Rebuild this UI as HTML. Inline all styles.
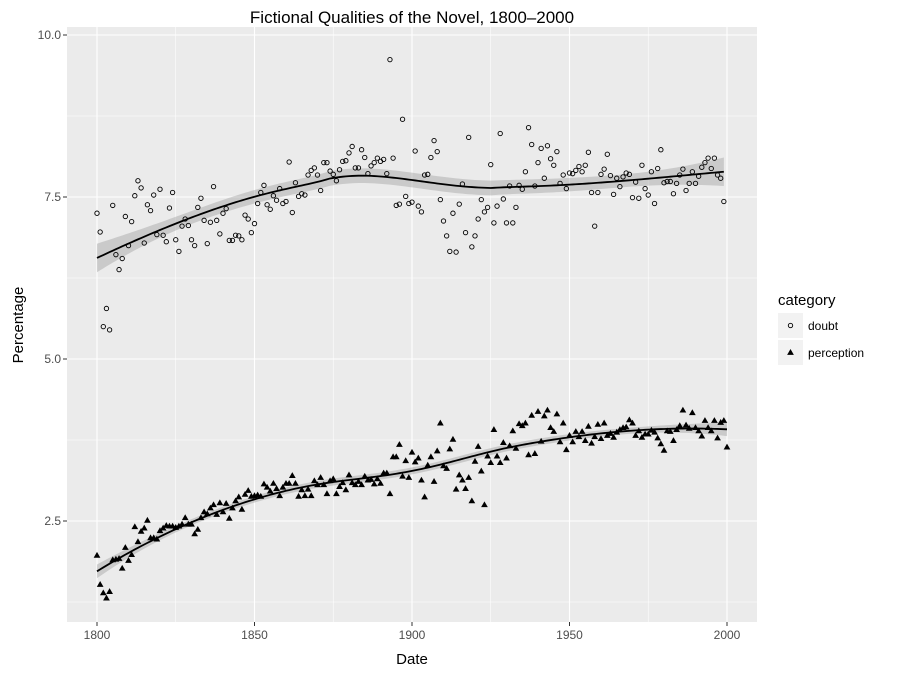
<!DOCTYPE html>
<html><head><meta charset="utf-8"><style>
body{margin:0;background:#fff;}
svg text{font-family:"Liberation Sans",sans-serif;}
</style></head><body>
<svg id="chart" width="900" height="675" xmlns="http://www.w3.org/2000/svg"></svg>
<script>
const startYear = 1800;
const xTicks = [1800, 1850, 1900, 1950, 2000];
const yTicks = [2.5, 5.0, 7.5, 10.0];
const yTickLabels = ["2.5", "5.0", "7.5", "10.0"];
const seriesNames = ["doubt", "perception"];
const doubt = [7.25,6.96,5.50,5.78,5.45,7.37,6.61,6.38,6.55,7.20,6.75,7.12,7.52,7.75,7.64,6.79,7.38,7.29,7.53,6.92,7.62,6.91,6.81,7.33,7.57,6.84,6.66,7.05,7.16,7.06,6.84,6.75,7.34,7.48,7.14,6.78,7.11,7.66,7.14,6.93,7.25,7.32,6.83,6.83,6.91,6.90,6.84,7.22,7.16,6.95,7.09,7.40,7.57,7.68,7.38,7.31,7.52,7.45,7.63,7.40,7.43,8.04,7.26,7.72,7.51,7.55,
7.53,
7.84,7.91,7.95,7.84,7.60,8.03,8.03,7.90,7.85,7.75,7.92,8.05,8.06,8.18,8.28,7.95,7.95,8.23,8.11,7.86,7.98,8.03,8.10,8.05,8.08,7.86,9.62,8.10,7.37,7.39,8.70,7.51,7.40,7.42,8.21,7.36,7.27,7.84,7.85,8.11,8.37,8.20,7.46,7.13,6.90,6.66,7.25,6.65,7.39,7.70,6.95,8.42,6.73,6.90,7.16,7.46,7.27,7.34,8.00,7.10,7.36,8.48,7.47,7.10,7.67,7.10,7.34,7.68,
7.62,7.89,8.57,8.31,7.67,8.03,8.25,7.79,8.29,8.09,7.99,8.20,7.71,7.84,7.63,7.87,7.86,7.91,7.97,7.89,7.99,8.19,7.57,7.05,7.57,7.85,7.93,8.16,7.83,7.54,7.79,7.66,7.81,7.87,7.85,7.49,7.73,7.48,7.99,7.63,7.53,7.89,7.40,7.94,8.23,7.72,7.74,7.74,7.55,7.71,7.84,7.93,7.60,7.71,7.89,7.71,7.82,7.96,8.03,8.10,7.94,8.10,7.84,7.79,7.43];
const perception = [1.97,1.52,1.39,1.31,1.41,1.90,1.91,1.92,1.77,2.09,1.89,1.98,2.41,2.18,2.34,2.39,2.51,2.24,2.24,2.22,2.35,2.39,2.43,2.42,2.42,2.40,2.42,2.45,2.55,2.45,2.45,2.30,2.37,2.55,2.64,2.61,2.70,2.75,2.60,2.78,2.64,2.77,2.54,2.70,2.81,2.87,2.68,2.91,2.97,2.88,2.89,2.90,2.88,3.07,3.02,2.96,3.08,3.00,2.89,3.02,3.08,3.08,3.20,3.08,2.88,2.98,
2.89,2.99,2.89,3.12,3.06,3.17,3.06,2.92,3.12,3.15,2.92,3.03,3.09,2.98,3.21,3.09,3.06,3.11,3.06,3.19,3.13,3.14,3.07,3.15,3.08,3.24,3.24,2.92,3.49,3.49,3.68,3.19,3.43,3.17,3.56,3.41,3.47,3.13,2.87,3.36,3.49,3.11,3.58,4.01,3.35,3.31,3.61,3.76,2.99,3.21,3.13,3.00,3.17,2.81,3.42,3.65,3.27,2.75,3.50,3.40,3.91,3.50,3.40,3.71,3.47,3.66,3.89,3.62,4.00,
3.97,4.01,3.52,4.13,3.54,4.19,3.73,4.12,4.21,3.94,3.88,4.15,3.72,4.01,3.60,3.82,3.72,3.88,3.80,3.88,3.74,3.96,3.70,3.80,3.99,3.77,4.01,3.82,3.85,3.79,3.87,3.91,3.94,3.95,4.06,4.01,3.82,3.89,3.79,3.84,3.84,3.90,3.87,3.78,3.69,3.59,3.89,3.88,3.74,3.91,3.97,4.21,3.98,3.93,4.17,3.94,3.89,3.81,4.05,3.94,3.89,4.05,3.78,4.02,4.05,3.64];

const NS="http://www.w3.org/2000/svg";
const svg=document.getElementById('chart');
const P={l:67,r:757,t:27,b:622};
const xs=v=>97+(v-1800)*3.15;
const ys=v=>35+(10-v)*64.8;
function mk(tag,attrs,parent){const e=document.createElementNS(NS,tag);for(const k in attrs)e.setAttribute(k,attrs[k]);(parent||svg).appendChild(e);return e;}

const bg=mk('rect',{x:P.l,y:P.t,width:P.r-P.l,height:P.b-P.t,fill:'#EBEBEB'});


const grid=mk('g',{});


[1825,1875,1925,1975].forEach(v=>mk('line',{x1:xs(v),x2:xs(v),y1:P.t,y2:P.b,stroke:'#fff','stroke-width':0.55},grid));
[8.75,6.25,3.75,1.25].forEach(v=>mk('line',{x1:P.l,x2:P.r,y1:ys(v),y2:ys(v),stroke:'#fff','stroke-width':0.55},grid));
xTicks.forEach(v=>mk('line',{x1:xs(v),x2:xs(v),y1:P.t,y2:P.b,stroke:'#fff','stroke-width':1.1},grid));
yTicks.forEach(v=>mk('line',{x1:P.l,x2:P.r,y1:ys(v),y2:ys(v),stroke:'#fff','stroke-width':1.1},grid));

const xa=mk('g',{});


xTicks.forEach(v=>{mk('line',{x1:xs(v),x2:xs(v),y1:P.b,y2:P.b+4,stroke:'#333','stroke-width':1},xa);
 const t=mk('text',{x:xs(v),y:P.b+17,'text-anchor':'middle','font-size':12,fill:'#4d4d4d'},xa);t.textContent=v;});
const ya=mk('g',{});


yTicks.forEach((v,i)=>{mk('line',{x1:P.l-4,x2:P.l,y1:ys(v),y2:ys(v),stroke:'#333','stroke-width':1},ya);
 const t=mk('text',{x:P.l-6,y:ys(v)+4,'text-anchor':'end','font-size':12,fill:'#4d4d4d'},ya);t.textContent=yTickLabels[i];});

// local quadratic loess (span 0.75)
function inv3(m){
 const [a,b,c]=m[0],[d,e,f]=m[1],[g,h,k]=m[2];
 const A=e*k-f*h,B=-(d*k-f*g),C=d*h-e*g;
 const det=a*A+b*B+c*C;
 return [[A/det,-(b*k-c*h)/det,(b*f-c*e)/det],[B/det,(a*k-c*g)/det,-(a*f-c*d)/det],[C/det,-(a*h-b*g)/det,(a*e-b*d)/det]];
}
function loess(vals){
 const n=vals.length,q=Math.floor(0.75*n);
 const fit=[],L=[];
 for(let i=0;i<n;i++){
  const d=[];for(let j=0;j<n;j++)d.push(Math.abs(j-i));
  const sd=d.slice().sort((a,b)=>a-b);const h=sd[q-1]*1.0001;
  const w=d.map(x=>{const u=x/h;return u<1?Math.pow(1-u*u*u,3):0;});
  const M=[[0,0,0],[0,0,0],[0,0,0]];
  for(let j=0;j<n;j++){const t=(j-i)/10;const bs=[1,t,t*t];for(let r=0;r<3;r++)for(let c=0;c<3;c++)M[r][c]+=w[j]*bs[r]*bs[c];}
  const Mi=inv3(M);
  const l=[];for(let j=0;j<n;j++){const t=(j-i)/10;l.push(w[j]*(Mi[0][0]+Mi[0][1]*t+Mi[0][2]*t*t));}
  L.push(l);fit.push(l.reduce((a,c,j)=>a+c*vals[j],0));
 }
 let rss=0;for(let j=0;j<n;j++)rss+=(vals[j]-fit[j])**2;
 const sig=Math.sqrt(rss/(n-7));
 const se=L.map(l=>sig*Math.sqrt(l.reduce((a,c)=>a+c*c,0)));
 return {fit,se};
}
function drawSmooth(vals,name){
 const {fit,se}=loess(vals);const g=mk('g',{});
 
 
 let up=[],dn=[];
 fit.forEach((f,i)=>{up.push(xs(startYear+i)+','+ys(f+1.97*se[i]));dn.unshift(xs(startYear+i)+','+ys(f-1.97*se[i]));});
 mk('polygon',{points:up.concat(dn).join(' '),fill:'#999','fill-opacity':0.4},g);
 mk('polyline',{points:fit.map((f,i)=>xs(startYear+i)+','+ys(f)).join(' '),fill:'none',stroke:'#000','stroke-width':1.8},g);
}
drawSmooth(doubt,'doubt');
drawSmooth(perception,'perception');

const gd=mk('g',{});


doubt.forEach((v,i)=>{const c=mk('circle',{cx:xs(startYear+i),cy:ys(v),r:2.2,fill:'none',stroke:'#000','stroke-width':0.9},gd);
 
 });
const gp=mk('g',{});


function tri(x,y,s,parent){return mk('polygon',{points:`${x},${y-s*0.62} ${x-s*0.6},${y+s*0.42} ${x+s*0.6},${y+s*0.42}`,fill:'#000'},parent);}
perception.forEach((v,i)=>{const t=tri(xs(startYear+i),ys(v),5.6,gp);
 
 });

const title=mk('text',{x:412,y:23,'text-anchor':'middle','font-size':17,fill:'#000'});title.textContent='Fictional Qualities of the Novel, 1800\u20132000';


const xt=mk('text',{x:412,y:664,'text-anchor':'middle','font-size':15,fill:'#000'});xt.textContent='Date';


const yt=mk('text',{x:0,y:0,'text-anchor':'middle','font-size':15,fill:'#000',transform:'translate(23,325) rotate(-90)'});yt.textContent='Percentage';



const lg=mk('g',{});


const lt=mk('text',{x:778,y:305,'font-size':15,fill:'#000'},lg);lt.textContent='category';
seriesNames.forEach((nm,i)=>{const y0=313+i*27;
 const e=mk('g',{},lg);
 
 
 mk('rect',{x:778,y:y0,width:25,height:25,fill:'#F2F2F2'},e);
 if(i===0)mk('circle',{cx:790.5,cy:y0+12.5,r:2.2,fill:'none',stroke:'#000','stroke-width':0.9},e);
 else tri(790.5,y0+12.5,5.6,e);
 const t=mk('text',{x:808,y:y0+17,'font-size':12,fill:'#000'},e);t.textContent=nm;});
</script>
</body></html>
